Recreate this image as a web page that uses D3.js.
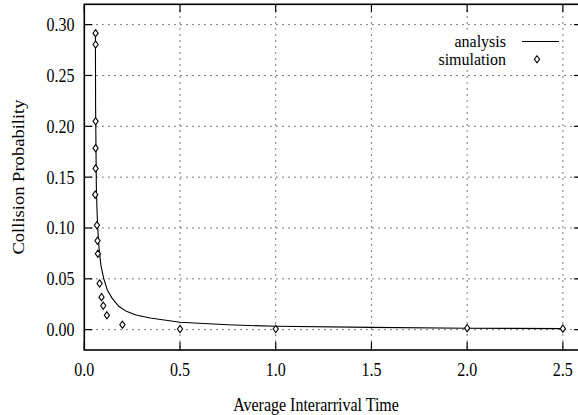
<!DOCTYPE html>
<html>
<head>
<meta charset="utf-8">
<script src="https://cdn.jsdelivr.net/npm/d3@7"></script>
<style>
  body { margin: 0; background: #fff; }
  svg { display: block; }
  text { font-family: "Liberation Serif", "Times New Roman", serif; fill: #000; }
</style>
</head>
<body>
<div id="chart"></div>
<script>
// data
var analysisX = [0.058, 0.059, 0.061, 0.063, 0.066, 0.070, 0.077, 0.087, 0.102, 0.12, 0.145, 0.18, 0.22, 0.27, 0.344, 0.5, 0.75, 1.0, 1.5, 2.0, 2.5];
var analysisY = [0.292, 0.22, 0.18, 0.14, 0.12, 0.10, 0.08, 0.063, 0.05, 0.039, 0.031, 0.023, 0.018, 0.0145, 0.0114, 0.0073, 0.0048, 0.0033, 0.0023, 0.0014, 0.001];

var simX = [0.059, 0.059, 0.059, 0.059, 0.059, 0.057, 0.066, 0.069, 0.071, 0.080, 0.090, 0.099, 0.118, 0.199, 0.5, 1.0, 2.0, 2.5];
var simY = [0.2916, 0.2805, 0.2049, 0.1785, 0.1585, 0.1328, 0.1027, 0.0875, 0.0747, 0.0454, 0.032, 0.0235, 0.0141, 0.0049, 0.0007, 0.0007, 0.0015, 0.001];

var xTicks = [0.0, 0.5, 1.0, 1.5, 2.0, 2.5];
var yTicks = [0.00, 0.05, 0.10, 0.15, 0.20, 0.25, 0.30];

var seriesNames = ['analysis', 'simulation'];

// build canvas
var width = 578,
	height = 415;

var svg = d3.select('#chart')
			.append('svg')
			.attr('width', width)
			.attr('height', height);

var plot = { left: 84.3, right: 582, top: 4.3, bottom: 350 };

var x = d3.scaleLinear().domain([0, 2.6]).range([plot.left, plot.right]);
var y = d3.scaleLinear().domain([-0.02, 0.32]).range([plot.bottom, plot.top]);

var textScale = 1.16;
var tickLen = 8;

// grid
var grid = svg.append('g')
	.attr('stroke', '#333')
	.attr('stroke-width', 1)
	.attr('stroke-dasharray', '1.3,4.7');

grid.selectAll('line.gx')
	.data(xTicks.filter(d => d > 0)).enter()
	.append('line')
	.attr('x1', d => x(d)).attr('x2', d => x(d))
	.attr('y1', plot.top).attr('y2', plot.bottom);

grid.selectAll('line.gy')
	.data(yTicks).enter()
	.append('line')
	.attr('x1', plot.left).attr('x2', plot.right)
	.attr('y1', d => y(d)).attr('y2', d => y(d));

// legend box hides the grid behind it
svg.append('rect')
	.attr('x', 432).attr('y', 30)
	.attr('width', 126).attr('height', 40)
	.attr('fill', '#fff');

// tick marks on all four sides
var ticks = svg.append('g').attr('stroke', '#000').attr('stroke-width', 1.2);

xTicks.forEach(function(d) {
	ticks.append('line').attr('x1', x(d)).attr('x2', x(d)).attr('y1', plot.bottom).attr('y2', plot.bottom - tickLen);
	ticks.append('line').attr('x1', x(d)).attr('x2', x(d)).attr('y1', plot.top).attr('y2', plot.top + tickLen);
});
yTicks.forEach(function(d) {
	ticks.append('line').attr('x1', plot.left).attr('x2', plot.left + tickLen).attr('y1', y(d)).attr('y2', y(d));
	ticks.append('line').attr('x1', plot.right).attr('x2', plot.right - tickLen).attr('y1', y(d)).attr('y2', y(d));
});

// frame
svg.append('rect')
	.attr('x', plot.left).attr('y', plot.top)
	.attr('width', plot.right - plot.left).attr('height', plot.bottom - plot.top)
	.attr('fill', 'none')
	.attr('stroke', '#000')
	.attr('stroke-width', 1.6);

// tick labels
svg.append('g').selectAll('text')
	.data(xTicks).enter()
	.append('text')
	.attr('transform', d => 'translate(' + x(d) + ',369) scale(1,' + textScale + ')')
	.attr('text-anchor', 'middle')
	.attr('dy', '0.35em')
	.style('font-size', '16px')
	.text(d => d3.format('.1f')(d));

svg.append('g').selectAll('text')
	.data(yTicks).enter()
	.append('text')
	.attr('transform', d => 'translate(74.5,' + y(d) + ') scale(1,' + textScale + ')')
	.attr('text-anchor', 'end')
	.attr('dy', '0.35em')
	.style('font-size', '16px')
	.text(d => d3.format('.2f')(d));

// axis titles
svg.append('text')
	.attr('transform', 'translate(316,404) scale(1,' + textScale + ')')
	.attr('text-anchor', 'middle')
	.attr('dy', '0.35em')
	.style('font-size', '16px')
	.text('Average Interarrival Time');

svg.append('text')
	.attr('transform', 'translate(18,177) scale(1,' + textScale + ') rotate(-90)')
	.attr('text-anchor', 'middle')
	.attr('dy', '0.35em')
	.style('font-size', '16px')
	.text('Collision Probability');

// analysis line
var analysis = analysisX.map((d, i) => [d, analysisY[i]]);
var line = d3.line().x(d => x(d[0])).y(d => y(d[1]));

svg.append('path')
	.datum(analysis)
	.attr('d', line)
	.attr('fill', 'none')
	.attr('stroke', '#000')
	.attr('stroke-width', 1.1);

// simulation points
var diamond = 'M0,-3.6L2.6,0L0,3.6L-2.6,0Z';
var sim = simX.map((d, i) => [d, simY[i]]);

svg.append('g').selectAll('path')
	.data(sim).enter()
	.append('path')
	.attr('transform', d => 'translate(' + x(d[0]) + ',' + y(d[1]) + ')')
	.attr('d', diamond)
	.attr('fill', '#fff')
	.attr('stroke', '#000')
	.attr('stroke-width', 1.1);

// legend
var legend = svg.append('g');
legend.selectAll('text')
	.data(seriesNames).enter()
	.append('text')
	.attr('transform', (d, i) => 'translate(506,' + (41 + i * 18.6) + ')')
	.attr('text-anchor', 'end')
	.attr('dy', '0.35em')
	.style('font-size', '16px')
	.text(d => d);

legend.append('line')
	.attr('x1', 522).attr('x2', 559)
	.attr('y1', 41.5).attr('y2', 41.5)
	.attr('stroke', '#000')
	.attr('stroke-width', 1.1);

legend.append('path')
	.attr('transform', 'translate(537,59.3)')
	.attr('d', diamond)
	.attr('fill', '#fff')
	.attr('stroke', '#000')
	.attr('stroke-width', 1.1);
</script>
</body>
</html>
